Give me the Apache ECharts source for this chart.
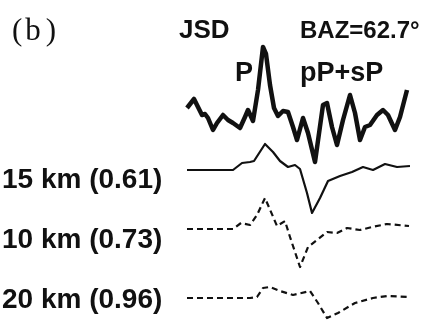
<!DOCTYPE html>
<html><head><meta charset="utf-8">
<script src="https://cdn.jsdelivr.net/npm/echarts@6/dist/echarts.min.js"></script>
<style>html,body{margin:0;padding:0;background:#fff}#c{width:428px;height:322px}</style>
</head><body><div id="c"></div>
<script>
// time (s) and amplitude samples for each trace
const obsT = [0,0.7,1.1,1.5,1.8,2.1,2.6,3.0,3.6,4.1,4.6,5.3,5.8,6.1,6.6,7.1,7.6,7.9,8.3,8.7,9.1,9.6,10.1,10.6,11.0,11.6,12.1,12.8,13.6,14.0,14.5,15.0,15.6,16.3,16.8,17.3,17.8,18.3,19.0,19.6,20.1,20.8,21.3,22.0];
const obsA = [0.7,1.6,0.8,0,0.1,-0.3,-1.5,-0.8,0,-0.5,-0.8,-1.3,-0.2,0.5,-0.6,2.5,6.8,6.1,3.0,0.7,-0.1,0.4,0.3,-1.2,-2.5,-0.3,-1.8,-4.7,1.0,1.2,-1.2,-3.0,-0.5,2.0,0.2,-2.5,-1.2,-1.0,0,0.5,0,-1.5,-0.2,2.5];
const s15T = [0,4.6,5.5,6.3,6.7,7.8,8.6,9.3,10.1,10.8,11.3,12.0,12.5,13.3,14.1,15.3,16.5,17.6,18.6,19.8,21.0,22.3];
const s15A = [0,0,0.7,0.8,0.9,2.6,1.8,0.9,0.3,0.5,0.1,-2.3,-4.3,-2.8,-1.1,-0.6,-0.2,0.3,0,0.6,0.3,0.4];
const s10T = [0,4.6,5.4,6.3,7.0,7.8,9.0,9.8,10.3,11.3,12.1,13.0,14.0,15.0,16.0,17.3,18.5,20.0,22.2];
const s10A = [0,0,0.6,0.4,1.4,3.1,0.3,0.8,-0.8,-3.8,-1.8,-1.1,-0.3,-0.4,0.1,-0.1,0.2,0.5,0.3];
const s20T = [0,6.3,7.0,7.6,8.3,9.3,10.6,12.3,13.1,14.0,15.1,16.8,18.6,20.0,22.2];
const s20A = [0,0,0.1,1.0,1.1,0.7,0.3,0.7,-0.5,-2.0,-1.5,-0.5,0,0.2,0.1];
const traceLabels = ['15 km (0.61)','10 km (0.73)','20 km (0.96)'];
const station = 'JSD';
const baz = 'BAZ=62.7°';
const phaseP = 'P';
const phaseDepth = 'pP+sP';

const zip = (t,a) => t.map((v,i)=>[v,a[i]]);
const traces = [
  {data: zip(obsT,obsA), top:40, height:130, min:-5.5, max:7.5, width:4.5, type:'solid'},
  {data: zip(s15T,s15A), top:135, height:90, min:-5.5, max:3.5, width:2.2, type:'solid'},
  {data: zip(s10T,s10A), top:190, height:90, min:-5.1, max:3.9, width:2.2, type:[6,4]},
  {data: zip(s20T,s20A), top:270, height:52, min:-2.4, max:2.8, width:2.2, type:[6,4]}
];
const chart = echarts.init(document.getElementById('c'), null, {renderer:'canvas'});
const sans = 'Liberation Sans, Arial, sans-serif';
const serif = 'Liberation Serif, Times New Roman, serif';
const labelY = [181,241,301];
chart.setOption({
  animation:false,
  grid: traces.map(t=>({left:187, right:18, top:t.top, height:t.height})),
  xAxis: traces.map((t,i)=>({type:'value', gridIndex:i, min:0, max:22.3, show:false})),
  yAxis: traces.map((t,i)=>({type:'value', gridIndex:i, min:t.min, max:t.max, show:false})),
  series: traces.map((t,i)=>({type:'line', xAxisIndex:i, yAxisIndex:i, data:t.data, symbol:'none', clip:false,
    lineStyle:{color:'#111', width:t.width, type:t.type, join:'round', cap:'butt'}})),
  graphic: [
    {type:'text', left:12, top:16, style:{text:'{p|(}{b|b}{p|)}', fill:'#111',
      rich:{p:{fontSize:31, fontFamily:serif, fill:'#111'}, b:{fontSize:31, fontFamily:serif, fill:'#111', padding:[0,5,0,3]}}}},
    {type:'text', left:179, top:18, style:{text:station, fontSize:26, fontFamily:sans, fontWeight:'bold', fill:'#111'}},
    {type:'text', left:300, top:19, style:{text:baz, fontSize:24, fontFamily:sans, fontWeight:'bold', fill:'#111'}},
    {type:'text', left:235, top:60, style:{text:phaseP, fontSize:27, fontFamily:sans, fontWeight:'bold', fill:'#111'}},
    {type:'text', left:300, top:60, style:{text:phaseDepth, fontSize:27, fontFamily:sans, fontWeight:'bold', fill:'#111'}},
  ].concat(traceLabels.map((s,i)=>({type:'text', left:2, top:labelY[i]-15, style:{text:s, fontSize:28, fontFamily:sans, fontWeight:'bold', fill:'#111'}})))
});
</script></body></html>
